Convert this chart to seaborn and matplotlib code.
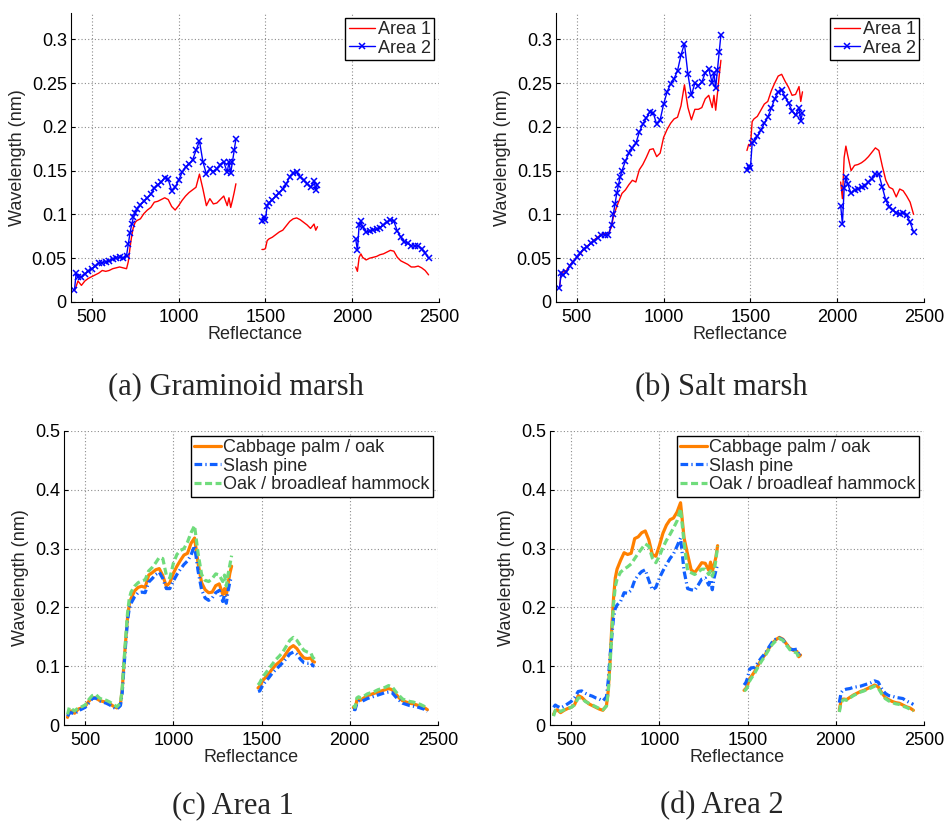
import matplotlib
matplotlib.use("Agg")
import matplotlib.pyplot as plt
from matplotlib.ticker import FuncFormatter, MultipleLocator
import pandas as pd
import seaborn as sns

# Band centres (nm) of the three retained spectral windows
wl_vis_nir = [400, 410, 420,
              440, 460, 480, 500, 520, 540, 560, 580, 600, 620, 640, 660, 680, 700,
              710, 720, 730, 740, 750, 760,
              780, 800, 820, 840, 860, 880, 900, 920, 940, 960, 980, 1000, 1020, 1040,
              1060, 1080, 1100, 1120, 1140, 1160, 1180, 1200, 1220, 1240, 1260, 1280,
              1290, 1300, 1310, 1320, 1330]
wl_swir1 = [1480, 1490, 1500, 1510, 1520, 1540, 1560, 1580, 1600, 1620, 1640, 1660,
            1680, 1700, 1720, 1740, 1760, 1780, 1790, 1800]
wl_swir2 = [2020, 2030, 2040, 2050, 2060, 2080, 2100, 2120, 2140, 2160, 2180, 2200,
            2220, 2240, 2260, 2280, 2300, 2320, 2340, 2360, 2380, 2400, 2420, 2440]

# (a) Graminoid marsh
graminoid_area1 = [
    0.013, 0.018, 0.024,
    0.019, 0.024, 0.027, 0.029, 0.031, 0.033, 0.036, 0.035, 0.036, 0.038, 0.039, 0.040, 0.039, 0.038,
    0.046, 0.062, 0.076, 0.086, 0.091, 0.093,
    0.095, 0.101, 0.105, 0.108, 0.114, 0.115, 0.117, 0.119, 0.117, 0.109, 0.105, 0.110, 0.116, 0.121,
    0.125, 0.128, 0.131, 0.146, 0.129, 0.110, 0.118, 0.112, 0.113, 0.117, 0.121, 0.110,
    0.119, 0.108, 0.116, 0.125, 0.135,
    0.060, 0.060, 0.061, 0.070, 0.072, 0.074, 0.077, 0.080, 0.082, 0.087, 0.092, 0.095,
    0.096, 0.094, 0.091, 0.088, 0.084, 0.089, 0.082, 0.086,
    0.040, 0.035, 0.051, 0.055, 0.051, 0.048, 0.050, 0.051, 0.052, 0.054, 0.055, 0.057,
    0.059, 0.058, 0.051, 0.047, 0.045, 0.043, 0.040, 0.040, 0.041, 0.039, 0.036, 0.031]
graminoid_area2 = [
    0.014, 0.033, 0.029,
    0.028, 0.032, 0.035, 0.038, 0.041, 0.044, 0.045, 0.046, 0.047, 0.049, 0.050, 0.051, 0.050, 0.053,
    0.066, 0.079, 0.089, 0.097, 0.102, 0.106,
    0.111, 0.115, 0.119, 0.123, 0.130, 0.134, 0.137, 0.142, 0.140, 0.127, 0.131, 0.139, 0.148, 0.154,
    0.158, 0.162, 0.173, 0.184, 0.160, 0.146, 0.152, 0.149, 0.152, 0.157, 0.160, 0.148,
    0.160, 0.147, 0.160, 0.173, 0.186,
    0.093, 0.097, 0.094, 0.110, 0.113, 0.117, 0.121, 0.125, 0.129, 0.135, 0.143, 0.147,
    0.148, 0.143, 0.139, 0.135, 0.131, 0.138, 0.128, 0.134,
    0.072, 0.059, 0.088, 0.092, 0.086, 0.080, 0.081, 0.082, 0.083, 0.085, 0.088, 0.091,
    0.094, 0.092, 0.081, 0.074, 0.069, 0.067, 0.064, 0.064, 0.064, 0.061, 0.056, 0.050]

# (b) Salt marsh
salt_area1 = [
    0.016, 0.034, 0.034,
    0.036, 0.042, 0.047, 0.051, 0.055, 0.060, 0.064, 0.067, 0.071, 0.074, 0.077, 0.078, 0.077, 0.086,
    0.097, 0.103, 0.109, 0.114, 0.119, 0.124,
    0.128, 0.134, 0.139, 0.137, 0.151, 0.157, 0.165, 0.174, 0.175, 0.166, 0.170, 0.188, 0.197, 0.204,
    0.209, 0.211, 0.224, 0.248, 0.222, 0.208, 0.220, 0.220, 0.222, 0.232, 0.236, 0.222,
    0.236, 0.219, 0.238, 0.258, 0.276,
    0.173, 0.180, 0.178, 0.206, 0.209, 0.212, 0.219, 0.226, 0.229, 0.241, 0.250, 0.258,
    0.260, 0.252, 0.245, 0.236, 0.237, 0.246, 0.229, 0.240,
    0.137, 0.118, 0.165, 0.178, 0.168, 0.150, 0.156, 0.157, 0.159, 0.162, 0.166, 0.171,
    0.176, 0.173, 0.155, 0.139, 0.131, 0.129, 0.120, 0.129, 0.127, 0.121, 0.114, 0.100]
salt_area2 = [
    0.016, 0.033, 0.031,
    0.034, 0.041, 0.046, 0.051, 0.056, 0.061, 0.063, 0.067, 0.070, 0.073, 0.076, 0.077, 0.076, 0.088,
    0.100, 0.112, 0.124, 0.134, 0.143, 0.150,
    0.161, 0.170, 0.176, 0.181, 0.194, 0.203, 0.210, 0.217, 0.216, 0.203, 0.208, 0.226, 0.240, 0.249,
    0.255, 0.264, 0.282, 0.295, 0.260, 0.236, 0.250, 0.247, 0.251, 0.262, 0.266, 0.250,
    0.262, 0.244, 0.265, 0.285, 0.305,
    0.151, 0.155, 0.153, 0.181, 0.184, 0.189, 0.196, 0.204, 0.211, 0.221, 0.232, 0.240,
    0.242, 0.234, 0.227, 0.218, 0.213, 0.222, 0.207, 0.216,
    0.110, 0.089, 0.130, 0.143, 0.135, 0.124, 0.128, 0.129, 0.131, 0.133, 0.137, 0.141,
    0.146, 0.146, 0.131, 0.116, 0.109, 0.105, 0.102, 0.100, 0.102, 0.099, 0.091, 0.080]

# (c) Area 1
area1_cabbage = [
    0.013, 0.022, 0.024,
    0.020, 0.027, 0.029, 0.032, 0.040, 0.047, 0.046, 0.042, 0.040, 0.039, 0.036, 0.032, 0.029, 0.036,
    0.060, 0.105, 0.145, 0.182, 0.205, 0.215,
    0.228, 0.234, 0.236, 0.234, 0.255, 0.259, 0.264, 0.266, 0.254, 0.236, 0.242, 0.258, 0.270, 0.280,
    0.289, 0.292, 0.309, 0.318, 0.275, 0.242, 0.230, 0.225, 0.226, 0.237, 0.240, 0.222,
    0.232, 0.221, 0.240, 0.258, 0.270,
    0.063, 0.066, 0.072, 0.077, 0.080, 0.087, 0.095, 0.102, 0.107, 0.113, 0.122, 0.131,
    0.135, 0.130, 0.121, 0.114, 0.113, 0.114, 0.108, 0.107,
    0.030, 0.027, 0.042, 0.044, 0.042, 0.046, 0.050, 0.052, 0.054, 0.056, 0.058, 0.060,
    0.062, 0.060, 0.053, 0.046, 0.041, 0.039, 0.037, 0.036, 0.034, 0.032, 0.030, 0.026]
area1_slash = [
    0.015, 0.020, 0.021,
    0.019, 0.024, 0.027, 0.030, 0.037, 0.045, 0.046, 0.041, 0.039, 0.037, 0.034, 0.030, 0.027, 0.033,
    0.055, 0.098, 0.140, 0.178, 0.198, 0.207,
    0.218, 0.225, 0.226, 0.225, 0.243, 0.249, 0.256, 0.260, 0.249, 0.232, 0.232, 0.245, 0.256, 0.265,
    0.273, 0.279, 0.289, 0.305, 0.262, 0.230, 0.216, 0.212, 0.216, 0.225, 0.229, 0.210,
    0.222, 0.207, 0.228, 0.243, 0.252,
    0.057, 0.058, 0.064, 0.069, 0.073, 0.080, 0.088, 0.094, 0.100, 0.106, 0.113, 0.121,
    0.124, 0.120, 0.112, 0.106, 0.105, 0.106, 0.101, 0.100,
    0.027, 0.026, 0.037, 0.040, 0.039, 0.042, 0.045, 0.047, 0.049, 0.051, 0.053, 0.055,
    0.056, 0.055, 0.048, 0.042, 0.037, 0.035, 0.033, 0.032, 0.031, 0.029, 0.027, 0.023]
area1_oak = [
    0.018, 0.030, 0.028,
    0.024, 0.029, 0.031, 0.034, 0.043, 0.050, 0.052, 0.046, 0.043, 0.042, 0.039, 0.035, 0.031, 0.037,
    0.062, 0.108, 0.150, 0.190, 0.215, 0.226,
    0.236, 0.242, 0.245, 0.247, 0.262, 0.268, 0.276, 0.285, 0.283, 0.255, 0.250, 0.275, 0.290, 0.297,
    0.300, 0.311, 0.327, 0.339, 0.292, 0.256, 0.246, 0.244, 0.249, 0.257, 0.255, 0.244,
    0.255, 0.236, 0.256, 0.272, 0.288,
    0.068, 0.072, 0.078, 0.083, 0.087, 0.095, 0.103, 0.111, 0.117, 0.124, 0.134, 0.144,
    0.149, 0.144, 0.135, 0.127, 0.124, 0.122, 0.115, 0.112,
    0.034, 0.030, 0.046, 0.048, 0.046, 0.049, 0.053, 0.055, 0.057, 0.060, 0.062, 0.064,
    0.067, 0.065, 0.057, 0.050, 0.044, 0.042, 0.040, 0.039, 0.037, 0.035, 0.032, 0.028]

# (d) Area 2
area2_cabbage = [
    0.018, 0.024, 0.026,
    0.021, 0.025, 0.028, 0.030, 0.035, 0.050, 0.047, 0.041, 0.036, 0.033, 0.030, 0.027, 0.025, 0.033,
    0.058, 0.105, 0.165, 0.215, 0.250, 0.265,
    0.280, 0.293, 0.290, 0.292, 0.317, 0.320, 0.327, 0.330, 0.315, 0.290, 0.287, 0.305, 0.326, 0.340,
    0.349, 0.352, 0.362, 0.378, 0.318, 0.290, 0.264, 0.259, 0.267, 0.276, 0.275, 0.263,
    0.277, 0.262, 0.272, 0.285, 0.305,
    0.059, 0.062, 0.068, 0.078, 0.082, 0.091, 0.102, 0.112, 0.120, 0.130, 0.139, 0.145,
    0.149, 0.146, 0.138, 0.130, 0.127, 0.125, 0.116, 0.119,
    0.025, 0.042, 0.044, 0.044, 0.043, 0.047, 0.051, 0.054, 0.057, 0.059, 0.062, 0.065,
    0.068, 0.065, 0.055, 0.047, 0.043, 0.040, 0.038, 0.037, 0.034, 0.031, 0.029, 0.025]
area2_slash = [
    0.030, 0.034, 0.032,
    0.029, 0.032, 0.036, 0.040, 0.047, 0.057, 0.058, 0.054, 0.051, 0.049, 0.046, 0.044, 0.041, 0.048,
    0.075, 0.115, 0.150, 0.182, 0.198, 0.204,
    0.210, 0.225, 0.224, 0.229, 0.246, 0.255, 0.261, 0.264, 0.246, 0.230, 0.234, 0.250, 0.262, 0.273,
    0.283, 0.291, 0.304, 0.318, 0.262, 0.232, 0.230, 0.229, 0.238, 0.248, 0.250, 0.238,
    0.247, 0.230, 0.250, 0.262, 0.273,
    0.068, 0.072, 0.080, 0.094, 0.097, 0.098, 0.107, 0.115, 0.122, 0.132, 0.141, 0.146,
    0.148, 0.145, 0.137, 0.129, 0.128, 0.129, 0.119, 0.121,
    0.038, 0.055, 0.059, 0.060, 0.061, 0.062, 0.064, 0.065, 0.066, 0.068, 0.070, 0.072,
    0.075, 0.073, 0.062, 0.054, 0.050, 0.049, 0.047, 0.046, 0.045, 0.041, 0.038, 0.035]
area2_oak = [
    0.015, 0.025, 0.027,
    0.023, 0.026, 0.028, 0.030, 0.034, 0.046, 0.046, 0.040, 0.037, 0.034, 0.031, 0.028, 0.026, 0.032,
    0.055, 0.100, 0.155, 0.205, 0.235, 0.248,
    0.260, 0.265, 0.269, 0.274, 0.283, 0.292, 0.300, 0.308, 0.304, 0.284, 0.276, 0.287, 0.302, 0.314,
    0.324, 0.335, 0.347, 0.368, 0.310, 0.262, 0.259, 0.256, 0.260, 0.265, 0.265, 0.256,
    0.262, 0.253, 0.262, 0.280, 0.304,
    0.058, 0.060, 0.065, 0.074, 0.079, 0.088, 0.099, 0.109, 0.118, 0.128, 0.137, 0.143,
    0.147, 0.144, 0.136, 0.128, 0.125, 0.122, 0.114, 0.117,
    0.022, 0.038, 0.042, 0.043, 0.042, 0.046, 0.050, 0.053, 0.056, 0.058, 0.061, 0.063,
    0.066, 0.063, 0.053, 0.045, 0.041, 0.038, 0.036, 0.035, 0.032, 0.030, 0.027, 0.024]

area_labels = ["Area 1", "Area 2"]
class_labels = ["Cabbage palm / oak", "Slash pine", "Oak / broadleaf hammock"]
captions = ["(a) Graminoid marsh", "(b) Salt marsh", "(c) Area 1", "(d) Area 2"]

wavelengths = wl_vis_nir + wl_swir1 + wl_swir2
window = [0] * len(wl_vis_nir) + [1] * len(wl_swir1) + [2] * len(wl_swir2)

# Line styles
area_styles = [
    dict(color="#ff0000", linewidth=1.0),
    dict(color="#0000ff", linewidth=1.0, marker="x", markersize=4.5,
         markeredgecolor="#0000ff", markeredgewidth=1.1),
]
class_styles = [
    dict(color="#ff8000", linewidth=2.3, linestyle="-"),
    dict(color="#1060ff", linewidth=2.3, linestyle=(0, (2.4, 1.0, 0.4, 1.0))),
    dict(color="#70dc7c", linewidth=2.3, linestyle=(0, (2.2, 1.1))),
]

sns.set_theme(style="white")
plt.rcParams["font.family"] = ["Liberation Sans", "DejaVu Sans"]
plt.rcParams["axes.unicode_minus"] = False

fig = plt.figure(figsize=(9.47, 8.27), dpi=100)
W, H = 947.0, 827.0


def axes_at(left, top, right, bottom):
    return fig.add_axes([left / W, 1 - bottom / H, (right - left) / W, (bottom - top) / H])


def draw_panel(ax, series, labels, styles, ymax, ystep):
    for values, label, style in zip(series, labels, styles):
        df = pd.DataFrame({"wavelength": wavelengths, "value": values, "window": window})
        for k, (_, part) in enumerate(df.groupby("window")):
            sns.lineplot(data=part, x="wavelength", y="value", ax=ax,
                         estimator=None, sort=False,
                         label=label if k == 0 else "_nolegend_", **style)
    ax.set_xlim(380, 2500)
    ax.set_ylim(0, ymax)
    ax.xaxis.set_major_locator(MultipleLocator(500))
    ax.yaxis.set_major_locator(MultipleLocator(ystep))
    ax.yaxis.set_major_formatter(FuncFormatter(lambda v, p: f"{v:g}"))
    ax.grid(True, linestyle=(0, (1, 2)), color="#8c8c8c", linewidth=0.8)
    for side in ("top", "right"):
        ax.spines[side].set_visible(False)
    for side in ("left", "bottom"):
        ax.spines[side].set_color("black")
        ax.spines[side].set_linewidth(0.8)
    ax.tick_params(direction="in", length=3, width=0.8, labelsize=13,
                   colors="black", bottom=True, left=True)
    ax.tick_params(axis="x", pad=5)
    ax.tick_params(axis="y", pad=3)
    ax.set_xlabel("Reflectance", fontsize=13, labelpad=0)
    ax.set_ylabel("Wavelength (nm)", fontsize=13, labelpad=4)
    handles, labs = ax.get_legend_handles_labels()
    leg = ax.legend(handles, labs, loc="upper right", fontsize=13, frameon=True,
                    fancybox=False, framealpha=1, edgecolor="black",
                    borderpad=0.2, labelspacing=0.08, handlelength=1.45,
                    handletextpad=0.15, borderaxespad=0.25)
    leg.get_frame().set_linewidth(1.0)


ax_a = axes_at(71, 13, 439, 302)
ax_b = axes_at(556, 13, 924, 302)
ax_c = axes_at(64, 431, 438, 725)
ax_d = axes_at(550, 431, 924, 725)

draw_panel(ax_a, [graminoid_area1, graminoid_area2], area_labels, area_styles, 0.33, 0.05)
draw_panel(ax_b, [salt_area1, salt_area2], area_labels, area_styles, 0.33, 0.05)
draw_panel(ax_c, [area1_cabbage, area1_slash, area1_oak], class_labels, class_styles, 0.5, 0.1)
draw_panel(ax_d, [area2_cabbage, area2_slash, area2_oak], class_labels, class_styles, 0.5, 0.1)

caption_pos = [(236, 388), (721, 388), (233, 806), (722, 806)]
for text, (cx, cy) in zip(captions, caption_pos):
    fig.text(cx / W, 1 - cy / H, text, ha="center", va="center",
             family="Liberation Serif", fontsize=22)

fig.savefig("out.png", dpi=100)
